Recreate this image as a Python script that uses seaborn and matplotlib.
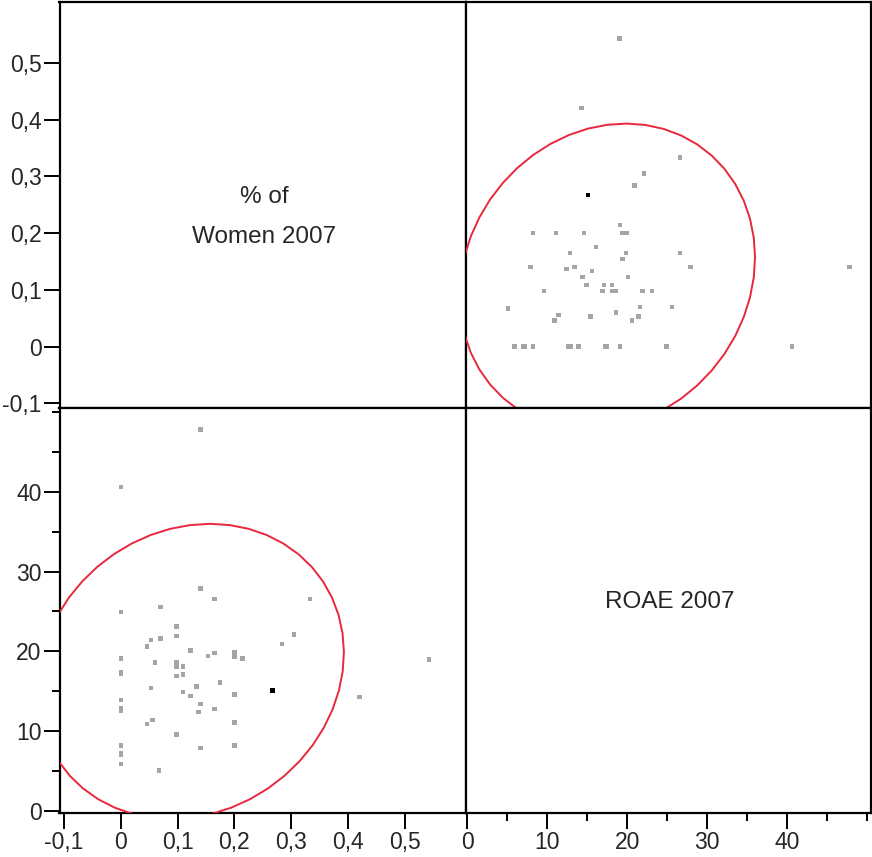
import numpy as np
import pandas as pd
import matplotlib
matplotlib.use("Agg")
import matplotlib.pyplot as plt
import seaborn as sns
from matplotlib.ticker import FixedLocator, FuncFormatter, MultipleLocator

# Share of women on the board and return on average equity, 2007
women = [0.543, 0.420, 0.333, 0.305, 0.284, 0.267, 0.214,
         0.200, 0.200, 0.200, 0.200, 0.200, 0.200,
         0.175, 0.165, 0.165, 0.165, 0.154,
         0.140, 0.137, 0.140, 0.140, 0.140,
         0.133, 0.123, 0.123,
         0.109, 0.109, 0.109,
         0.098, 0.098, 0.098, 0.098, 0.098, 0.098,
         0.067, 0.070, 0.070,
         0.056, 0.046, 0.053, 0.060, 0.053, 0.046,
         0.0, 0.0, 0.0, 0.0, 0.0, 0.0, 0.0, 0.0, 0.0, 0.0, 0.0, 0.0]
roae = [19.0, 14.25, 26.6, 22.1, 20.9, 15.1, 19.1,
        8.2, 11.1, 14.6, 19.3, 19.6, 19.9,
        16.1, 12.8, 19.8, 26.6, 19.4,
        7.9, 12.4, 13.4, 27.9, 47.8,
        15.6, 14.4, 20.1,
        14.9, 17.1, 18.1,
        9.6, 16.9, 18.1, 18.6, 21.9, 23.1,
        5.1, 21.6, 25.6,
        11.4, 10.9, 15.4, 18.6, 21.4, 20.6,
        5.9, 7.0, 7.2, 8.2, 12.6, 12.9, 13.9, 17.2, 17.4, 19.1, 24.9, 40.6]
selected_row = 5

women_label = ["% of", "Women 2007"]
roae_label = "ROAE 2007"
women_ticks = [-0.1, 0, 0.1, 0.2, 0.3, 0.4, 0.5]
roae_ticks = [0, 10, 20, 30, 40]

df = pd.DataFrame({"women": women, "roae": roae})
df["sel"] = ["yes" if i == selected_row else "no" for i in range(len(df))]

lims = {"women": (-0.108, 0.607), "roae": (-0.25, 50.5)}
cols = ["women", "roae"]

sns.set_style("white")
plt.rcParams["font.family"] = ["Liberation Sans", "DejaVu Sans"]

fig = plt.figure(figsize=(8.72, 8.57), dpi=100)
W, H = 872, 857
x_edges = [59.5, 465.5, 871]
y_edges = [2, 408, 813]
LABEL_SIZE = 17.5
TICK_SIZE = 16.5


def comma(v, pos=None):
    s = f"{v:.1f}".rstrip("0").rstrip(".") if abs(v) > 1e-9 else "0"
    return s.replace(".", ",")


def ellipse(xs, ys, level=0.95, n=48):
    """Bivariate-normal density contour holding `level` of the data."""
    data = np.column_stack([xs, ys])
    mu = data.mean(axis=0)
    cov = np.cov(data, rowvar=False)
    vals, vecs = np.linalg.eigh(cov)
    k = np.sqrt(-2 * np.log(1 - level))
    t = np.linspace(0, 2 * np.pi, n + 1)
    circ = np.column_stack([np.cos(t), np.sin(t)])
    pts = circ * (k * np.sqrt(vals)) @ vecs.T + mu
    return pts[:, 0], pts[:, 1]


for r in range(2):
    for c in range(2):
        left = x_edges[c] / W
        width = (x_edges[c + 1] - x_edges[c]) / W
        bottom = 1 - y_edges[r + 1] / H
        height = (y_edges[r + 1] - y_edges[r]) / H
        ax = fig.add_axes([left, bottom, width, height])
        xv, yv = cols[c], cols[r]
        ax.set_xlim(*lims[xv])
        ax.set_ylim(*lims[yv])
        if r == c:
            if r == 0:
                ax.text(0.505, 0.505, women_label[0], transform=ax.transAxes,
                        ha="center", va="baseline", fontsize=LABEL_SIZE)
                ax.text(0.505, 0.406, women_label[1], transform=ax.transAxes,
                        ha="center", va="baseline", fontsize=LABEL_SIZE)
            else:
                ax.text(0.503, 0.505, roae_label, transform=ax.transAxes,
                        ha="center", va="baseline", fontsize=LABEL_SIZE)
        else:
            ex, ey = ellipse(df[xv], df[yv])
            ax.plot(ex, ey, color="#e8283c", lw=1.4, zorder=3)
            sns.scatterplot(data=df, x=xv, y=yv, hue="sel",
                            palette={"no": "#a5a5a5", "yes": "black"},
                            hue_order=["no", "yes"],
                            marker="s", s=10, linewidth=0, legend=False,
                            ax=ax, zorder=4)
        ax.set_xlabel("")
        ax.set_ylabel("")
        for sp in ax.spines.values():
            sp.set_color("black")
            sp.set_linewidth(1.6)
            sp.set_visible(True)
        ax.tick_params(which="both", direction="out", color="black",
                       labelsize=TICK_SIZE, width=1.4)
        ax.tick_params(which="major", length=11.5, pad=1.5)
        ax.tick_params(which="minor", length=6)

        # only the outer edges carry scales
        if c == 0:
            ticks = women_ticks if r == 0 else roae_ticks
            ax.yaxis.set_major_locator(FixedLocator(ticks))
            ax.yaxis.set_major_formatter(FuncFormatter(comma))
            if r == 1:
                ax.yaxis.set_minor_locator(MultipleLocator(5))
            ax.tick_params(axis="y", which="both", left=True, labelleft=True)
        else:
            ax.set_yticks([])
        if r == 1:
            ticks = women_ticks if c == 0 else roae_ticks
            ax.xaxis.set_major_locator(FixedLocator(ticks))
            ax.xaxis.set_major_formatter(FuncFormatter(comma))
            if c == 1:
                ax.xaxis.set_minor_locator(MultipleLocator(5))
            ax.tick_params(axis="x", which="both", bottom=True, labelbottom=True)
        else:
            ax.set_xticks([])

fig.savefig("out.png", dpi=100, facecolor="white")
